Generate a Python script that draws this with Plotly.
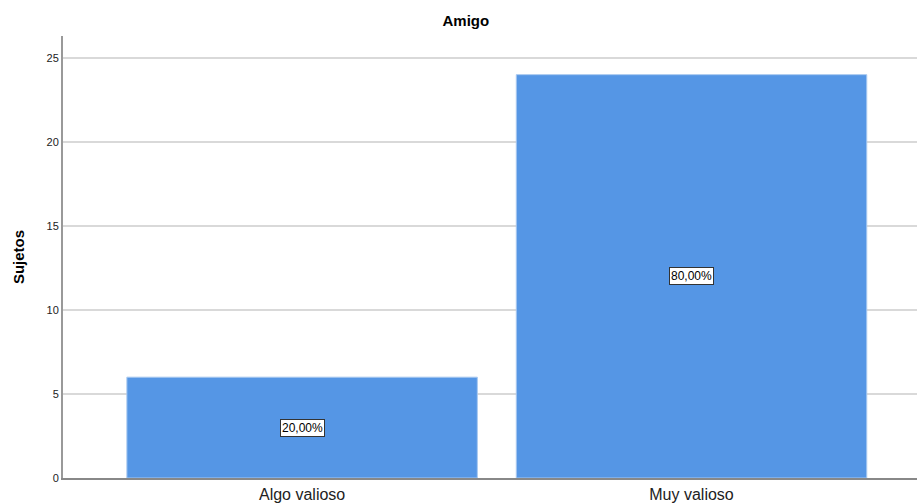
import plotly.graph_objects as go

categories = ["Algo valioso", "Muy valioso"]
counts = [6, 24]
pct_labels = ["20,00%", "80,00%"]
y_ticks = [0, 5, 10, 15, 20, 25]

bar_color = "#5596E5"

fig = go.Figure()
fig.add_trace(go.Bar(
    x=categories, y=counts, width=0.9,
    marker=dict(color=bar_color, line=dict(color="#a9c9f0", width=1)),
    hoverinfo="skip",
))

for c, v, t in zip(categories, counts, pct_labels):
    fig.add_annotation(
        x=c, y=v / 2, text=t, showarrow=False,
        font=dict(family="Arial, Liberation Sans, sans-serif", size=12, color="#000"),
        bgcolor="white", bordercolor="#333", borderwidth=1, borderpad=1,
    )

fig.update_layout(
    width=917, height=503,
    margin=dict(l=63, r=0, t=36, b=25, autoexpand=False),
    paper_bgcolor="white", plot_bgcolor="white",
    showlegend=False,
    title=dict(text="<b>Amigo</b>", x=0.508, xanchor="center", y=0.958, yanchor="middle",
               font=dict(family="Arial, Liberation Sans, sans-serif", size=15, color="#000")),
    font=dict(family="Arial, Liberation Sans, sans-serif", color="#222"),
    bargap=0.1,
)
fig.update_xaxes(
    range=[-0.614, 1.579],
    showline=True, linecolor="#888", linewidth=2,
    ticks="", showgrid=False,
    tickfont=dict(size=16, color="#222"),
    ticklabelstandoff=1,
    automargin=False,
    fixedrange=True,
)
fig.update_yaxes(
    range=[0, 26.3], tickvals=y_ticks,
    showline=True, linecolor="#999", linewidth=2,
    showgrid=True, gridcolor="#d9d9d9", gridwidth=2,
    zeroline=False,
    ticks="", tickfont=dict(size=11, color="#222"),
    title=dict(text="<b>Sujetos</b>", font=dict(size=15, color="#000"), standoff=18),
    automargin=False,
    fixedrange=True,
)

fig.write_html(
    "out.html",
    config={"displayModeBar": False},
    post_script="document.body.style.margin='0';document.body.style.overflow='hidden';",
)
